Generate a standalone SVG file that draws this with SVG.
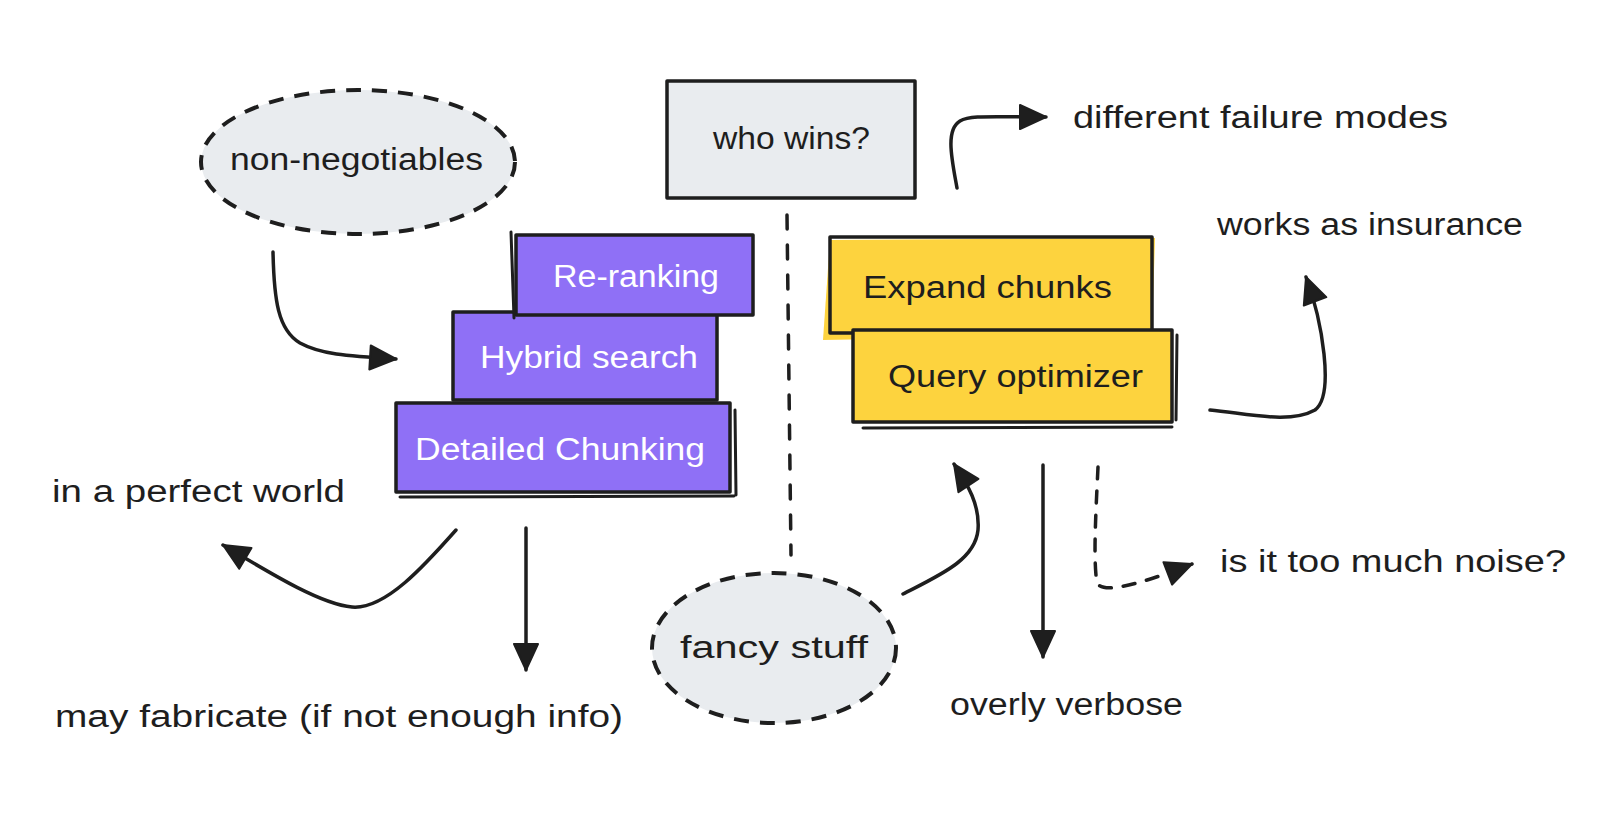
<svg xmlns="http://www.w3.org/2000/svg" width="1600" height="834" viewBox="0 0 1600 834">
<style>
text{font-family:"Liberation Sans","DejaVu Sans",sans-serif;font-size:31px;fill:#1e1e1e}
text.w{fill:#ffffff}
.box{stroke:#1e1e1e;stroke-width:3.5;stroke-linejoin:round}
.gray{fill:#e9ecef}
.purple{fill:#8f70f6}
.yellow{fill:#fdd33e}
.dash{fill:#e9ecef;stroke:#1e1e1e;stroke-width:4;stroke-dasharray:15 11}
.edge{fill:none;stroke:#1e1e1e;stroke-width:3.5;stroke-linecap:round}
.extra{fill:none;stroke:#1e1e1e;stroke-width:3;stroke-linecap:round}
</style>
<defs>
<marker id="ah" markerUnits="userSpaceOnUse" markerWidth="30" markerHeight="30" viewBox="0 0 30 30" refX="28" refY="15" orient="auto">
<path d="M2,3 L28,15 L2,27 Z" fill="#1e1e1e" stroke="#1e1e1e" stroke-width="2" stroke-linejoin="round"/>
</marker>
</defs>
<rect width="1600" height="834" fill="#ffffff"/>

<g id="non-negotiables">
<ellipse class="dash" cx="358" cy="162" rx="157" ry="72"/>
<text x="230" y="170" textLength="253" lengthAdjust="spacingAndGlyphs">non-negotiables</text>
</g>

<g id="who-wins">
<rect class="box gray" x="667" y="81" width="248" height="117"/>
<text x="713" y="149" textLength="157" lengthAdjust="spacingAndGlyphs">who wins?</text>
</g>

<g id="hybrid-search">
<rect class="box purple" x="453" y="312" width="264" height="88"/>
<text class="w" x="480" y="368" textLength="218" lengthAdjust="spacingAndGlyphs">Hybrid search</text>
</g>

<g id="re-ranking">
<rect class="box purple" x="516" y="235" width="237" height="80"/>
<path class="extra" d="M511,232 L514,318"/>
<text class="w" x="553" y="287" textLength="166" lengthAdjust="spacingAndGlyphs">Re-ranking</text>
</g>

<g id="detailed-chunking">
<rect class="box purple" x="396" y="403" width="334" height="89"/>
<path class="extra" d="M400,497 L734,496 M735,410 L736,495"/>
<text class="w" x="415" y="460" textLength="290" lengthAdjust="spacingAndGlyphs">Detailed Chunking</text>
</g>

<g id="expand-chunks">
<path class="yellow" d="M823,340 L830,240 L1155,238 L1152,334 Z"/>
<rect class="box" fill="none" x="830" y="237" width="322" height="96"/>
<text x="863" y="298" textLength="249" lengthAdjust="spacingAndGlyphs">Expand chunks</text>
</g>

<g id="query-optimizer">
<rect class="box yellow" x="853" y="330" width="319" height="92"/>
<path class="extra" d="M863,428 L1172,427 M1177,335 L1176,420"/>
<text x="888" y="387" textLength="255" lengthAdjust="spacingAndGlyphs">Query optimizer</text>
</g>

<g id="fancy-stuff">
<ellipse class="dash" cx="774" cy="648" rx="122" ry="75"/>
<text x="680" y="658" textLength="188" lengthAdjust="spacingAndGlyphs">fancy stuff</text>
</g>

<g id="labels">
<text x="1073" y="128" textLength="375" lengthAdjust="spacingAndGlyphs">different failure modes</text>
<text x="1217" y="235" textLength="306" lengthAdjust="spacingAndGlyphs">works as insurance</text>
<text x="52" y="502" textLength="293" lengthAdjust="spacingAndGlyphs">in a perfect world</text>
<text x="55" y="727" textLength="568" lengthAdjust="spacingAndGlyphs">may fabricate (if not enough info)</text>
<text x="950" y="715" textLength="233" lengthAdjust="spacingAndGlyphs">overly verbose</text>
<text x="1220" y="572" textLength="346" lengthAdjust="spacingAndGlyphs">is it too much noise?</text>
</g>

<g id="connectors">
<path class="edge" d="M273,252 C274,300 278,330 300,343 C320,354 345,356 396,359" marker-end="url(#ah)"/>
<path class="edge" d="M957,188 C952,160 945,130 960,121 C970,115 990,117 1046,117" marker-end="url(#ah)"/>
<path class="edge" d="M1210,410 C1250,414 1290,424 1315,410 C1335,395 1322,320 1306,277" marker-end="url(#ah)"/>
<path class="edge" d="M456,530 C425,565 385,610 352,607 C320,604 270,573 223,545" marker-end="url(#ah)"/>
<path class="edge" d="M526,528 L526,670" marker-end="url(#ah)"/>
<path class="edge" d="M903,594 C940,575 975,560 978,530 C980,505 968,485 954,464" marker-end="url(#ah)"/>
<path class="edge" d="M1043,465 L1043,657" marker-end="url(#ah)"/>
<path class="edge" stroke-dasharray="12 12" d="M1098,467 C1096,510 1093,560 1097,583 C1102,592 1125,590 1192,564" marker-end="url(#ah)"/>
<path class="edge" stroke-dasharray="14 16" d="M787,215 L791,555"/>
</g>
</svg>
